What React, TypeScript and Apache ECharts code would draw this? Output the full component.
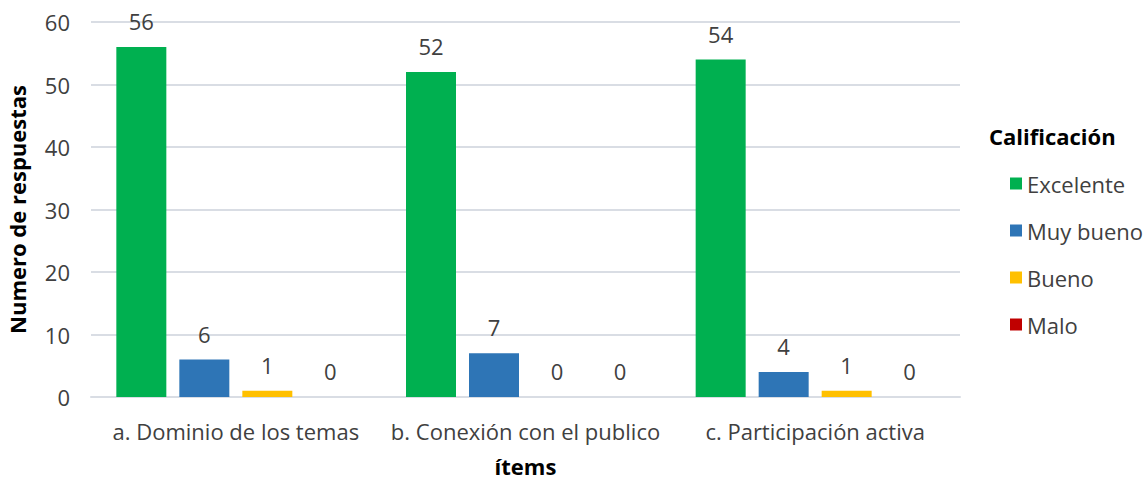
import React, { useEffect, useRef } from "react";
import * as echarts from "echarts";

const categories = [
  "a. Dominio de los temas",
  "b. Conexión con el publico",
  "c. Participación activa",
];
const seriesNames = ["Excelente", "Muy bueno", "Bueno", "Malo"];
const excelente = [56, 52, 54];
const muyBueno = [6, 7, 4];
const bueno = [1, 0, 1];
const malo = [0, 0, 0];
const colors = ["#00b050", "#2e75b6", "#ffc000", "#c00000"];
const yTicks = [0, 10, 20, 30, 40, 50, 60];

const FONT = "'Open Sans', 'Noto Sans', sans-serif";
const TEXT = "#404040";
const FS = 22;

export default function App() {
  const ref = useRef<HTMLDivElement>(null);
  useEffect(() => {
    if (!ref.current) return;
    const chart = echarts.init(ref.current, undefined, { renderer: "svg" });
    const values = [excelente, muyBueno, bueno, malo];
    chart.setOption({
      animation: false,
      textStyle: { fontFamily: FONT },
      grid: {
        left: 91,
        right: 184,
        top: 22,
        bottom: 83,
        containLabel: false,
        outerBoundsMode: "none",
      },
      legend: {
        orient: "vertical",
        left: 1005,
        top: 165,
        itemWidth: 12,
        itemHeight: 12,
        itemGap: 20,
        itemStyle: { borderWidth: 0 },
        icon: "rect",
        data: seriesNames,
        textStyle: { fontSize: FS, color: TEXT, fontFamily: FONT, lineHeight: 27 },
      },
      graphic: [
        {
          type: "text",
          left: 989,
          top: 125,
          style: {
            text: "Calificación",
            font: `bold ${FS}px ${FONT}`,
            fill: "#000",
          },
        },
      ],
      xAxis: {
        type: "category",
        data: categories,
        name: "ítems",
        nameLocation: "middle",
        nameGap: 58,
        nameTextStyle: { fontSize: FS, fontWeight: "bold", color: "#000" },
        axisLine: { lineStyle: { color: "#d9dde4", width: 2 } },
        axisTick: { show: false },
        axisLabel: { fontSize: FS, color: TEXT, margin: 23, interval: 0 },
      },
      yAxis: {
        type: "value",
        min: yTicks[0],
        max: yTicks[yTicks.length - 1],
        interval: 10,
        name: "Numero de respuestas",
        nameLocation: "middle",
        nameGap: 63,
        nameTextStyle: { fontSize: FS, fontWeight: "bold", color: "#000" },
        axisLabel: { fontSize: FS, color: TEXT, margin: 21 },
        splitLine: { lineStyle: { color: "#d9dde4", width: 2 } },
      },
      series: seriesNames.map((name, i) => ({
        name,
        type: "bar",
        data: values[i],
        barWidth: 50,
        barGap: "26%",
        itemStyle: { color: colors[i] },
        label: {
          show: true,
          position: "top",
          distance: 15,
          fontSize: FS,
          color: TEXT,
          fontFamily: FONT,
        },
      })),
    });
    return () => chart.dispose();
  }, []);
  return (
    <div
      ref={ref}
      style={{ position: "absolute", left: 0, top: 0, width: 1144, height: 480 }}
    />
  );
}
